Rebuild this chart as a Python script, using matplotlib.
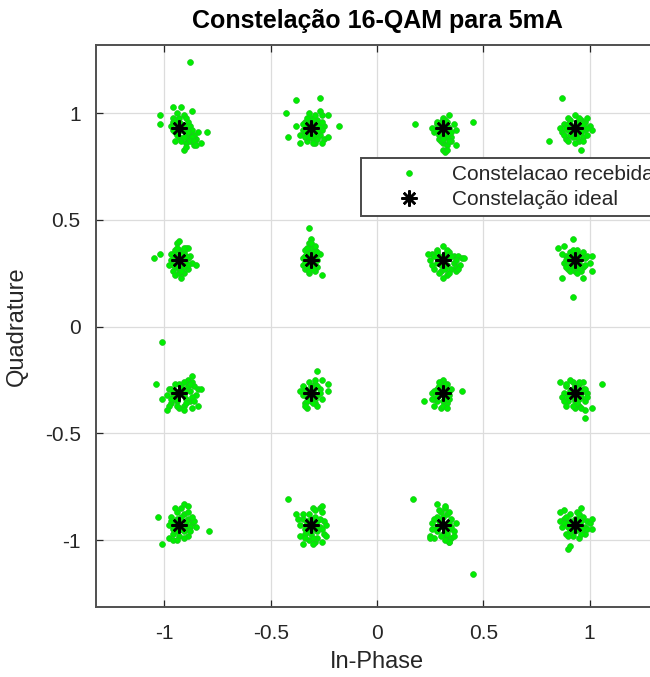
import matplotlib
matplotlib.use("Agg")
import matplotlib.pyplot as plt
from matplotlib.lines import Line2D

plt.rcParams['font.family'] = ['Liberation Sans', 'DejaVu Sans']
plt.rcParams['axes.unicode_minus'] = False

# Ideal 16-QAM amplitude levels (same on both axes)
ideal_levels = [-0.93, -0.31, 0.31, 0.93]

# Received symbols: deviations from each ideal point, in hundredths.
# Naming: dev_iX_qY -> column X (I level index), row Y (Q level index)
dev_i0_q3 = [(-3, 5), (-1, 7), (2, 6), (-4, 1), (-2, -2), (1, 2), (3, -1), (0, -4), (4, 3), (5, -3),
             (6, -6), (8, -5), (7, -8), (3, -7), (-2, -6), (9, -2), (2, -10), (5, 1), (-3, 3), (1, -1),
             (4, -5), (6, -1), (-1, 0), (10, -7), (7, -3), (5, 31), (-9, 6), (-9, 2), (13, -2), (3, -9),
             (-3, 10), (1, 10), (6, 8),
             (0, 3), (2, 1), (-2, 4), (3, -3), (1, -6), (4, -2), (6, -4), (-1, -3), (2, -4), (0, 5),
             (5, -6), (7, -6), (-3, -1), (3, 5), (8, -8)]
dev_i1_q3 = [(-3, 3), (0, 5), (3, 4), (5, 6), (-4, -1), (-1, -2), (2, 0), (4, -3), (1, -5), (-2, -6),
             (-5, -3), (3, 2), (6, 1), (0, -1), (-2, 1), (5, -1), (2, -7), (-1, 7), (4, 8), (6, -5),
             (-3, -4), (1, 3), (-7, 13), (4, 14), (-12, 7), (13, 1), (-7, 1), (-11, -4), (8, 6), (8, -4),
             (-5, -7), (5, -7),
             (-2, 3), (1, 4), (3, -2), (-1, -4), (2, -3), (4, 1), (-4, 2), (0, 2), (2, 6), (-3, -2),
             (5, 3), (1, -7), (-2, 5), (3, -5)]
dev_i2_q3 = [(-3, 2), (0, 5), (2, 3), (-4, -2), (-1, -1), (1, -3), (3, 0), (4, -4), (-2, -5), (0, -7),
             (2, -8), (5, 2), (6, -1), (-1, 3), (3, 6), (-5, 0), (1, 1), (-2, -3), (4, -6), (0, -10),
             (-13, 2), (14, 3), (1, -11), (6, -8),
             (-2, 0), (1, 4), (2, -4), (-1, -6), (3, -6), (-3, -1), (1, -2), (2, 1), (-1, 1), (4, -2),
             (0, -5), (2, -10), (-3, 3)]
dev_i3_q3 = [(-5, 2), (-3, 5), (0, 6), (3, 4), (5, 3), (-6, -2), (-3, -1), (0, 0), (2, -2), (5, -1),
             (7, 1), (-4, -5), (-1, -4), (2, -6), (4, -4), (-2, 2), (1, 3), (6, -3), (-7, 0), (0, -7),
             (8, -1), (3, 1), (-6, 14), (-12, -6), (3, -10), (6, 5),
             (-3, 2), (2, 5), (-1, -2), (4, 2), (-2, -3), (1, -4), (3, -2), (-4, 0), (1, 1), (6, 0),
             (-5, -3), (4, -6), (-2, 4), (-3, -6)]

dev_i0_q2 = [(-3, 3), (0, 5), (2, 4), (-1, 8), (-4, 0), (-2, -2), (1, 1), (3, -1), (0, -4), (-3, -5),
             (2, -6), (5, 2), (6, -1), (4, -4), (-5, -2), (1, -2), (-1, 2), (3, 6), (-2, -7), (4, 1),
             (-12, 1), (-9, 3), (1, -8), (8, -2), (0, 9), (4, 6),
             (-2, 1), (1, 3), (2, -3), (-1, -3), (3, 2), (-3, -2), (0, -6), (2, 6), (-4, 3), (4, -2),
             (1, -5), (-2, 5), (-1, 6)]
dev_i1_q2 = [(-2, 4), (0, 6), (2, 5), (-1, 8), (-4, 1), (-2, -1), (1, 2), (3, 0), (0, -3), (-3, -4),
             (2, -5), (4, 3), (-1, -6), (1, -1), (-3, 2), (3, -3), (0, 1), (-4, -2), (2, 7), (-1, 3),
             (-1, 15), (0, 10), (5, -7),
             (-1, 0), (1, 4), (2, -2), (-2, -3), (-3, 5), (2, 2), (-1, -5), (1, -4), (3, 4), (-2, 6),
             (0, 8), (-3, -1)]
dev_i2_q2 = [(-5, 3), (-3, 5), (0, 7), (3, 4), (5, 2), (-6, 0), (-3, -1), (0, 0), (2, -2), (5, -1),
             (7, 2), (9, 1), (-4, -4), (-1, -5), (2, -7), (0, -8), (4, -4), (6, -3), (-2, 2), (1, 3),
             (8, -2), (-7, 3), (10, 1), (6, -5),
             (-2, 0), (3, 1), (1, -4), (-4, 2), (4, 2), (-1, -2), (2, 5), (-5, -2), (6, 0), (3, -6),
             (-2, -6), (7, -4), (-3, 4)]
dev_i3_q2 = [(-4, 2), (-2, 4), (1, 5), (3, 3), (5, 1), (-5, -1), (-2, -2), (0, 0), (2, -1), (4, -3),
             (6, 2), (-3, -4), (0, -5), (3, -5), (-1, 2), (2, 2), (-6, 3), (7, -1), (1, -3), (-4, -3),
             (-1, -17), (-8, 6), (-1, 10), (8, -5), (-6, -8), (4, -8), (8, 2), (-5, 7),
             (-2, 0), (1, 2), (3, 1), (-3, 1), (2, -4), (-1, -3), (0, 3), (4, 4), (-4, 0), (5, -2),
             (-2, -5), (1, -6), (-1, 5)]

dev_i0_q1 = [(-5, 2), (-2, 4), (1, 3), (4, 6), (6, 5), (-6, -1), (-3, -2), (0, 0), (2, -1), (5, 1),
             (7, 3), (-4, -5), (-1, -4), (2, -6), (5, -4), (8, -1), (-2, 1), (3, 2), (0, -7), (6, -7),
             (-5, -6), (9, 2), (-8, 24), (-11, 4), (-8, -3), (10, 2), (9, -6), (2, -8), (-6, -8), (6, 8),
             (-3, 0), (1, 1), (3, -3), (-2, -3), (4, 3), (0, 4), (-4, 2), (2, 5), (6, -2), (-1, -6),
             (3, -5), (7, -4), (-4, -3), (5, 4)]
dev_i1_q1 = [(-3, 2), (-1, 5), (2, 4), (-4, -1), (-2, -2), (1, 1), (3, -1), (0, -4), (-3, -5), (2, -5),
             (4, 2), (5, -3), (-1, 0), (1, -2), (-5, 1), (0, 3), (3, -6), (-2, -7), (3, 10), (8, 4),
             (8, 1), (5, 6),
             (-2, 0), (0, 2), (2, -3), (-2, -4), (3, 3), (-4, 3), (1, -5), (-1, -2), (4, 0), (-3, -6),
             (2, 6)]
dev_i2_q1 = [(-3, 2), (-1, 5), (2, 4), (-5, 0), (-2, -1), (1, 1), (3, -1), (0, -4), (-3, -4), (2, -5),
             (4, 2), (-1, -7), (-4, -3), (1, -2), (-2, 3), (0, 6), (3, -3), (9, 1), (-9, -4), (-4, -6),
             (-1, 1), (2, 2), (1, -3), (-3, -2), (-2, 5), (3, 1), (0, -6), (-4, 1), (2, -7), (-5, -3),
             (1, 4)]
dev_i3_q1 = [(-4, 3), (-1, 5), (2, 4), (4, 2), (-5, 0), (-2, -1), (1, 1), (3, -2), (0, -4), (-3, -4),
             (2, -6), (5, -4), (-6, -2), (-1, 2), (6, 0), (-4, -6), (1, -3), (4, 5), (-2, 6), (0, -7),
             (13, 4), (5, -12), (5, -8), (8, -7), (-7, 5), (6, -2),
             (-2, 1), (0, 3), (3, 0), (-3, -2), (2, -3), (-1, -2), (1, -5), (5, 2), (-4, 4), (3, -7),
             (-5, -4), (2, 5), (-1, -6)]

dev_i0_q0 = [(-4, 4), (-1, 6), (2, 5), (4, 3), (6, 1), (-5, 0), (-2, -1), (0, 0), (3, -2), (5, -1),
             (-3, -4), (0, -5), (2, -3), (-5, -6), (7, 2), (1, 8), (-2, 8), (8, -1), (3, 2), (-1, 3),
             (4, -5), (-3, -7), (-10, 4), (-8, -9), (14, -3), (2, 10), (4, 9),
             (-2, 2), (1, 4), (3, 0), (-3, -2), (1, -2), (5, -3), (-1, -3), (2, -6), (-4, 2), (6, 4),
             (4, 6), (0, 2), (-1, -7)]
dev_i1_q0 = [(-4, 3), (-1, 5), (2, 4), (5, 6), (-5, 0), (-2, -1), (1, 1), (4, -1), (6, 2), (-3, -4),
             (0, -4), (3, -3), (6, -4), (-1, -7), (2, -8), (-5, -5), (-6, 3), (1, 8), (4, 8), (7, 0),
             (-2, 2), (3, -6), (-11, 12), (-4, -9), (1, -9), (5, -8), (7, -5), (5, 9), (-7, 5),
             (-2, 1), (0, 3), (3, 2), (-3, -2), (2, -2), (-1, -3), (4, 3), (1, -6), (5, -2), (-4, 5),
             (2, 7), (-3, -6), (0, -2)]
dev_i2_q0 = [(-3, 4), (-1, 6), (2, 5), (4, 3), (-5, 1), (-2, -1), (1, 0), (3, -2), (0, -4), (-3, -3),
             (2, -6), (5, -3), (-6, -5), (6, 1), (-1, 2), (4, -6), (-4, -6), (1, 8), (3, -8), (-2, 7),
             (-14, 12), (14, -23), (-6, -6), (3, -8), (-3, 10), (1, 9),
             (-2, 2), (0, 4), (3, 1), (-3, -1), (1, -2), (-1, -5), (2, -4), (4, -1), (-4, 3), (3, 6),
             (-5, -2), (1, -7), (5, -5)]
dev_i3_q0 = [(-5, 3), (-2, 5), (1, 6), (4, 4), (6, 2), (-6, -1), (-3, -1), (0, 0), (2, -2), (5, -1),
             (7, 1), (-4, -4), (-1, -5), (2, -6), (5, -4), (-2, 2), (1, 3), (-5, 7), (3, 8), (-7, 2),
             (8, -2), (0, -3), (-3, -11), (-2, -10), (-7, 6), (8, 3),
             (-3, 1), (0, 3), (3, 2), (-2, -3), (1, -2), (4, -2), (-1, -2), (2, 5), (-4, 4), (6, -2),
             (-3, -5), (3, -4), (-5, 1)]

clusters = [
    (0, 3, dev_i0_q3), (1, 3, dev_i1_q3), (2, 3, dev_i2_q3), (3, 3, dev_i3_q3),
    (0, 2, dev_i0_q2), (1, 2, dev_i1_q2), (2, 2, dev_i2_q2), (3, 2, dev_i3_q2),
    (0, 1, dev_i0_q1), (1, 1, dev_i1_q1), (2, 1, dev_i2_q1), (3, 1, dev_i3_q1),
    (0, 0, dev_i0_q0), (1, 0, dev_i1_q0), (2, 0, dev_i2_q0), (3, 0, dev_i3_q0),
]

rx_i, rx_q = [], []
for ii, qq, dev in clusters:
    for dx, dy in dev:
        rx_i.append(ideal_levels[ii] + dx / 100.0)
        rx_q.append(ideal_levels[qq] + dy / 100.0)

ideal_i = [x for q in ideal_levels for x in ideal_levels]
ideal_q = [q for q in ideal_levels for x in ideal_levels]

tick_vals = [-1, -0.5, 0, 0.5, 1]
tick_text = ['-1', '-0.5', '0', '0.5', '1']

dark = '#262626'
green = '#00ee00'
star = (8, 2, 0)

W, H = 650, 677
fig = plt.figure(figsize=(W / 100, H / 100), dpi=100)
ax = fig.add_axes([96 / W, (H - 607) / H, (658 - 96) / W, (607 - 45) / H])

ax.plot(rx_i, rx_q, linestyle='none', marker='o', ms=4.2, mfc=green, mec='#1fc41f', mew=0.5,
        zorder=3)
ax.plot(ideal_i, ideal_q, linestyle='none', marker=star, ms=11.5, mec='black', mew=1.8, zorder=4)

ax.set_xlim(-1.322, 1.322)
ax.set_ylim(-1.314, 1.32)
ax.set_xticks(tick_vals)
ax.set_xticklabels(tick_text)
ax.set_yticks(tick_vals)
ax.set_yticklabels(tick_text)
ax.grid(True, color='#dcdcdc', linewidth=0.9, zorder=0)
ax.set_axisbelow(True)
ax.tick_params(direction='in', top=True, right=True, length=5, width=0.9, colors=dark,
               labelsize=15)
ax.tick_params(axis='x', pad=12)
ax.tick_params(axis='y', pad=11)
for s in ax.spines.values():
    s.set_color('#505050')
    s.set_linewidth(1.4)

ax.set_xlabel('In-Phase', fontsize=17, color=dark, labelpad=6)
ax.set_ylabel('Quadrature', fontsize=17, color=dark, labelpad=12)
ax.set_title('Constelação 16-QAM para 5mA', fontsize=18, fontweight='bold', color='black', pad=12)

handles = [
    Line2D([], [], linestyle='none', marker='o', ms=4.2, mfc=green, mec='#1fc41f', mew=0.5),
    Line2D([], [], linestyle='none', marker=star, ms=11.5, mec='black', mew=1.8),
]
leg = fig.legend(handles, ['Constelacao recebida', 'Constelação ideal'],
                 loc='upper left', bbox_to_anchor=(361 / W, 1 - 158 / H),
                 bbox_transform=fig.transFigure, borderaxespad=0, fontsize=15,
                 handlelength=3.9, handletextpad=0.1, borderpad=0.35, labelspacing=0.28,
                 fancybox=False, framealpha=1, edgecolor='#4a4a4a')
leg.get_frame().set_linewidth(1.4)
for t in leg.get_texts():
    t.set_color(dark)

fig.savefig('out.png', dpi=100)
